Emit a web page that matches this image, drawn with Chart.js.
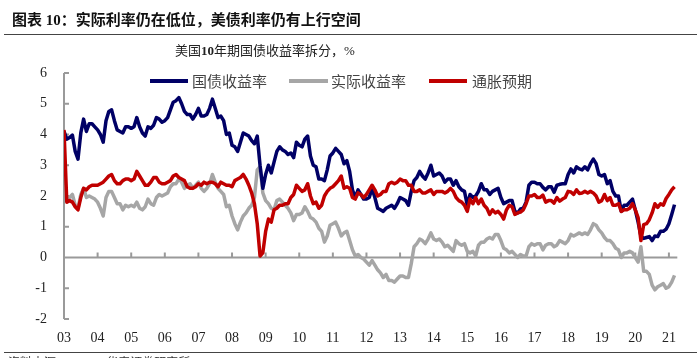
<!DOCTYPE html>
<html>
<head>
<meta charset="utf-8">
<script src="https://cdn.jsdelivr.net/npm/chart.js@4.4.1/dist/chart.umd.min.js"></script>
<style>
  body { margin: 0; background: #fff; }
  #wrap { position: relative; width: 697px; height: 358px; overflow: hidden; font-family: "Liberation Serif", "Noto Sans CJK SC", serif; }
  #chart { position: absolute; left: 0; top: 0; }
  .title { position: absolute; left: 12px; top: 10px; font-size: 15px; font-weight: bold; color: #111; white-space: nowrap; line-height: 20px; }
  .rule { position: absolute; left: 4px; right: 0; height: 1px; background: #444; }
  .subtitle { position: absolute; left: 175px; top: 43px; font-size: 13px; color: #222; white-space: nowrap; line-height: 16px; }
  .leg-line { position: absolute; top: 79px; height: 4px; }
  .leg-text { position: absolute; top: 72px; font-family: "Noto Sans CJK SC", sans-serif; font-size: 15px; line-height: 18px; color: #444; white-space: nowrap; }
  .source { position: absolute; left: 8px; top: 353px; font-size: 12px; color: #333; white-space: nowrap; }
</style>
</head>
<body>
<div id="wrap">
  <canvas id="chart" width="697" height="358"></canvas>
  <div class="title">图表 10：实际利率仍在低位，美债利率仍有上行空间</div>
  <div class="rule" style="top:34px"></div>
  <div class="subtitle">美国<b>10</b>年期国债收益率拆分，%</div>
  <div class="leg-line" style="left:150px;width:38px;background:#000066"></div>
  <div class="leg-text" style="left:192px">国债收益率</div>
  <div class="leg-line" style="left:289px;width:39px;background:#a6a6a6"></div>
  <div class="leg-text" style="left:331px">实际收益率</div>
  <div class="leg-line" style="left:429px;width:38px;background:#c00000"></div>
  <div class="leg-text" style="left:472px">通胀预期</div>
  <div class="rule" style="top:352px"></div>
  <div class="source">资料来源：Wind，华泰证券研究所</div>
</div>
<script>
// monthly observations, Jan 2003 .. Mar 2021
const startYear = 2003;
const yearLabels = ['03','04','05','06','07','08','09','10','11','12','13','14','15','16','17','18','19','20','21'];

const nominal = [
  4.10, 3.85, 3.90, 3.98, 3.45, 3.20, 4.05, 4.50, 4.10, 4.35, 4.35, 4.25,
  4.15, 4.00, 3.75, 4.45, 4.75, 4.80, 4.45, 4.15, 4.10, 4.05, 4.25, 4.25,
  4.20, 4.25, 4.55, 4.25, 4.05, 3.95, 4.25, 4.20, 4.30, 4.55, 4.50, 4.40,
  4.45, 4.55, 4.80, 5.05, 5.10, 5.20, 5.00, 4.75, 4.65, 4.65, 4.50, 4.65,
  4.85, 4.60, 4.60, 4.65, 4.85, 5.15, 4.85, 4.55, 4.60, 4.45, 4.00, 4.05,
  3.65, 3.60, 3.45, 3.75, 4.05, 4.00, 3.95, 3.80, 3.70, 3.95, 3.00, 2.25,
  2.70, 3.00, 2.75, 3.10, 3.45, 3.60, 3.50, 3.45, 3.35, 3.40, 3.25, 3.75,
  3.65, 3.60, 3.85, 3.95, 3.30, 3.00, 2.95, 2.55, 2.55, 2.50, 2.85, 3.30,
  3.40, 3.55, 3.45, 3.35, 3.05, 3.15, 2.80, 2.20, 1.95, 2.20, 2.05, 1.90,
  1.90, 1.95, 2.25, 1.95, 1.60, 1.55, 1.50, 1.60, 1.65, 1.70, 1.60, 1.75,
  1.95, 1.90, 1.85, 1.70, 2.15, 2.50, 2.60, 2.80, 2.65, 2.55, 2.75, 3.00,
  2.65, 2.70, 2.75, 2.65, 2.45, 2.55, 2.55, 2.35, 2.50, 2.30, 2.20, 2.15,
  1.70, 2.05, 1.95, 2.00, 2.15, 2.40, 2.20, 2.20, 2.05, 2.15, 2.20, 2.25,
  1.95, 1.75, 1.80, 1.85, 1.85, 1.50, 1.45, 1.58, 1.60, 1.80, 2.35, 2.45,
  2.45, 2.40, 2.40, 2.28, 2.20, 2.30, 2.30, 2.12, 2.35, 2.38, 2.40, 2.40,
  2.70, 2.88, 2.75, 2.95, 2.88, 2.85, 2.95, 2.85, 3.05, 3.20, 3.05, 2.70,
  2.65, 2.70, 2.40, 2.50, 2.15, 2.00, 2.00, 1.50, 1.70, 1.70, 1.80, 1.90,
  1.55, 1.15, 0.70, 0.62, 0.65, 0.68, 0.55, 0.70, 0.68, 0.85, 0.85, 0.92,
  1.10, 1.40, 1.72
];

const real = [
  2.35, 1.95, 1.95, 2.05, 1.70, 1.60, 2.05, 2.25, 1.95, 2.00, 1.95, 1.90,
  1.80, 1.60, 1.35, 1.95, 2.15, 2.15, 1.95, 1.75, 1.75, 1.55, 1.70, 1.65,
  1.70, 1.65, 1.80, 1.60, 1.55, 1.65, 1.90, 1.75, 1.70, 1.95, 2.05, 2.00,
  2.05, 2.10, 2.30, 2.40, 2.40, 2.55, 2.45, 2.25, 2.35, 2.40, 2.25, 2.35,
  2.45, 2.25, 2.15, 2.25, 2.40, 2.70, 2.45, 2.25, 2.15, 2.05, 1.65, 1.70,
  1.35, 1.10, 0.90, 1.15, 1.35, 1.45, 1.60, 1.70, 1.95, 2.85, 2.95, 2.10,
  1.85, 1.75, 1.60, 1.55, 1.85, 1.90, 1.80, 1.70, 1.60, 1.45, 1.20, 1.40,
  1.40, 1.45, 1.65, 1.50, 1.30, 1.25, 1.15, 0.95, 0.85, 0.50, 0.70, 1.05,
  1.10, 1.15, 0.95, 0.70, 0.80, 0.85, 0.55, 0.25, 0.05, 0.10, 0.00, -0.05,
  -0.15, -0.25, -0.10, -0.25, -0.40, -0.50, -0.65, -0.55, -0.75, -0.75, -0.80, -0.70,
  -0.60, -0.60, -0.65, -0.65, -0.20, 0.35, 0.45, 0.60, 0.55, 0.45, 0.60, 0.80,
  0.60, 0.55, 0.60, 0.50, 0.35, 0.40, 0.30, 0.20, 0.55, 0.45, 0.40, 0.45,
  0.20, 0.15, 0.20, 0.05, 0.40, 0.50, 0.50, 0.60, 0.65, 0.60, 0.75, 0.75,
  0.55, 0.30, 0.25, 0.15, 0.20, 0.10, 0.00, 0.10, 0.05, 0.05, 0.35, 0.45,
  0.40, 0.45, 0.45, 0.25, 0.40, 0.45, 0.45, 0.35, 0.40, 0.55, 0.50, 0.45,
  0.55, 0.75, 0.70, 0.75, 0.80, 0.75, 0.80, 0.75, 0.90, 1.10, 1.05, 0.90,
  0.80, 0.65, 0.55, 0.55, 0.45, 0.30, 0.25, 0.00, 0.15, 0.15, 0.20, 0.15,
  0.00, -0.15, 0.35, -0.45, -0.45, -0.55, -0.90, -1.05, -0.95, -0.90, -0.85, -1.00,
  -0.95, -0.80, -0.58
];

const breakeven = [
  4.15, 1.80, 1.85, 1.80, 1.65, 1.55, 1.95, 2.25, 2.20, 2.30, 2.35, 2.35,
  2.35, 2.40, 2.45, 2.55, 2.65, 2.70, 2.50, 2.40, 2.40, 2.50, 2.55, 2.55,
  2.50, 2.55, 2.80, 2.65, 2.50, 2.35, 2.35, 2.45, 2.60, 2.60, 2.45, 2.40,
  2.40, 2.45, 2.50, 2.65, 2.70, 2.60, 2.55, 2.50, 2.30, 2.25, 2.25, 2.30,
  2.40, 2.35, 2.45, 2.40, 2.45, 2.45, 2.40, 2.30, 2.45, 2.40, 2.35, 2.35,
  2.30, 2.50, 2.55, 2.60, 2.70, 2.55, 2.35, 2.10, 1.75, 1.10, 0.05, 0.15,
  0.85, 1.25, 1.15, 1.55, 1.60, 1.70, 1.70, 1.75, 1.75, 1.95, 2.05, 2.35,
  2.25, 2.15, 2.20, 2.40, 2.00, 1.75, 1.80, 1.60, 1.70, 2.00, 2.15, 2.25,
  2.30, 2.40, 2.50, 2.65, 2.25, 2.30, 2.25, 1.95, 1.90, 2.10, 2.05, 1.95,
  2.05, 2.20, 2.35, 2.20, 2.00, 2.05, 2.15, 2.15, 2.40, 2.45, 2.40, 2.45,
  2.55, 2.50, 2.50, 2.35, 2.35, 2.15, 2.15, 2.20, 2.10, 2.10, 2.15, 2.20,
  2.05, 2.15, 2.15, 2.15, 2.10, 2.15, 2.25, 2.15, 1.95, 1.85, 1.80, 1.70,
  1.50, 1.90, 1.75, 1.95, 1.75, 1.90, 1.70, 1.60, 1.40, 1.55, 1.45, 1.50,
  1.40, 1.25, 1.55, 1.70, 1.65, 1.40, 1.45, 1.48, 1.55, 1.75, 2.00, 2.00,
  2.05, 1.95, 1.95, 2.03, 1.80, 1.85, 1.85, 1.77, 1.95, 1.83, 1.90, 1.95,
  2.15, 2.13, 2.05, 2.20, 2.08, 2.10, 2.15, 2.10, 2.15, 2.10, 2.00, 1.80,
  1.85, 2.05, 1.85, 1.95, 1.70, 1.70, 1.75, 1.50, 1.55, 1.55, 1.60, 1.75,
  1.55, 1.30, 0.55, 1.07, 1.10, 1.23, 1.45, 1.75, 1.63, 1.75, 1.70, 1.92,
  2.05, 2.20, 2.30
];

function toPoints(values) {
  return values.map((v, i) => ({ x: startYear + i / 12, y: v }));
}

const axisPlugin = {
  id: 'axisLines',
  beforeDatasetsDraw(chart) {
    const { ctx, scales: { x, y } } = chart;
    const left = x.left;
    const zero = y.getPixelForValue(0);
    ctx.save();
    ctx.strokeStyle = '#9a9a9a';
    ctx.lineWidth = 2;
    ctx.beginPath();
    ctx.moveTo(left, y.getPixelForValue(6));
    ctx.lineTo(left, y.getPixelForValue(-2));
    for (let v = -2; v <= 6; v++) {
      const py = y.getPixelForValue(v);
      ctx.moveTo(left, py);
      ctx.lineTo(left + 5, py);
    }
    ctx.moveTo(left, zero);
    ctx.lineTo(x.getPixelForValue(2021.25), zero);
    for (let yr = startYear + 1; yr < startYear + yearLabels.length; yr++) {
      const px = x.getPixelForValue(yr);
      ctx.moveTo(px, zero);
      ctx.lineTo(px, zero - 5);
    }
    ctx.stroke();
    ctx.restore();
  }
};

const tickFont = { family: '"Liberation Serif", serif', size: 14 };

new Chart(document.getElementById('chart'), {
  type: 'line',
  data: {
    datasets: [
      { label: '国债收益率', data: toPoints(nominal), borderColor: '#000066', order: 1 },
      { label: '实际收益率', data: toPoints(real), borderColor: '#a6a6a6', order: 2 },
      { label: '通胀预期', data: toPoints(breakeven), borderColor: '#c00000', order: 0 }
    ]
  },
  options: {
    responsive: false,
    animation: false,
    events: [],
    elements: {
      line: { borderWidth: 3.5, tension: 0, borderJoinStyle: 'round' },
      point: { radius: 0 }
    },
    layout: { padding: { top: 73, right: 17, left: 0, bottom: 0 } },
    plugins: { legend: { display: false }, tooltip: { enabled: false } },
    scales: {
      x: {
        type: 'linear',
        min: 2003,
        max: 2021.33,
        grid: { display: false, drawTicks: false },
        border: { display: false },
        afterBuildTicks: s => { s.ticks = yearLabels.map((_, i) => ({ value: startYear + i })); },
        afterFit: s => { s.height = 39; },
        ticks: {
          autoSkip: false,
          maxRotation: 0,
          padding: 11,
          color: '#222',
          font: tickFont,
          callback: v => yearLabels[Math.round(v - startYear)]
        }
      },
      y: {
        min: -2,
        max: 6,
        grid: { display: false, drawTicks: false },
        border: { display: false },
        afterFit: s => { s.width = 64; },
        ticks: { stepSize: 1, padding: 17, color: '#222', font: tickFont }
      }
    }
  },
  plugins: [axisPlugin]
});
</script>
</body>
</html>
